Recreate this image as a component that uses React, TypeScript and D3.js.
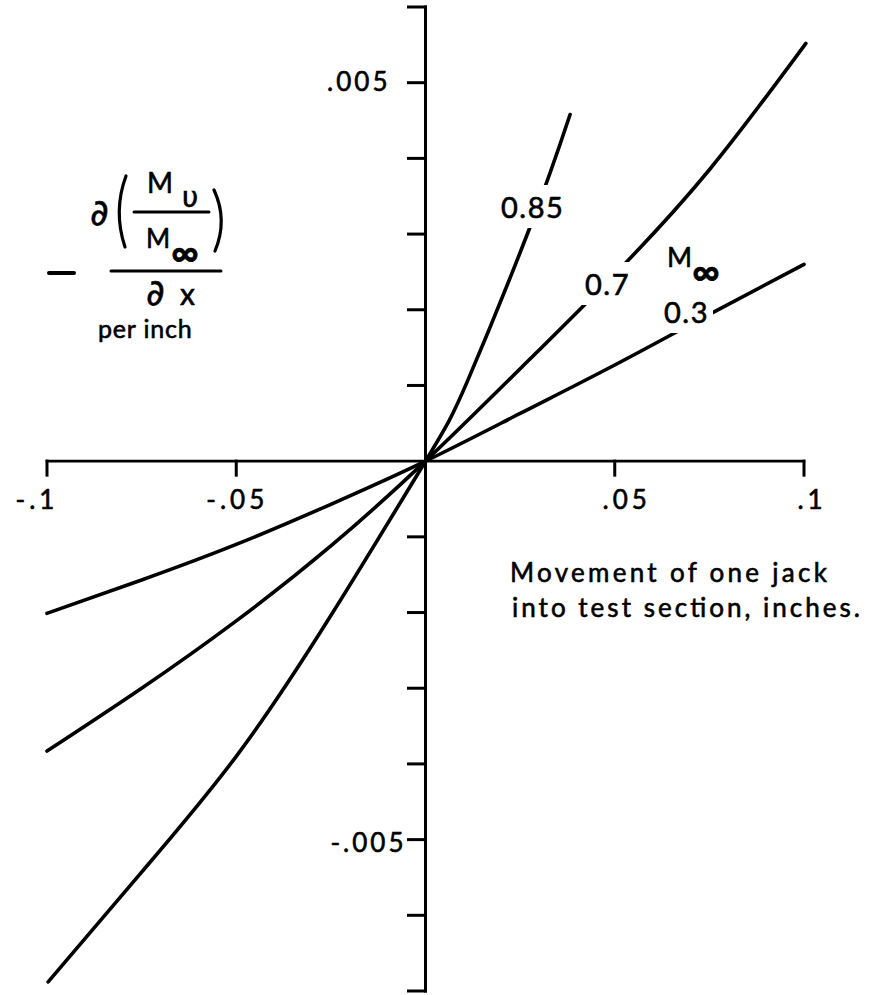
import React, { useEffect, useRef } from "react";
import * as d3 from "d3";

const WIDTH = 880;
const HEIGHT = 995;
const FONT = "Lato, 'DejaVu Sans', sans-serif";
const SYMBOL_FONT = "'DejaVu Sans', sans-serif";

// Movement of one jack into the test section (inches) against the
// Mach-number gradient -d(Mv/M∞)/dx (per inch), one series per free-stream Mach number.
const jack03 = [-0.1, -0.075, -0.05, -0.025, 0, 0.025, 0.05, 0.075, 0.1];
const grad03 = [-0.00201, -0.00157, -0.0011, -0.00057, 0, 0.00063, 0.00127, 0.00194, 0.0026];

const jack07 = [-0.1, -0.075, -0.05, -0.025, 0, 0.025, 0.05, 0.075, 0.1005];
const grad07 = [-0.00383, -0.003, -0.00211, -0.00112, 0, 0.00122, 0.00247, 0.00385, 0.00552];

const jack085 = [-0.0997, -0.075, -0.05, -0.025, 0, 0.0112, 0.0279, 0.0382];
const grad085 = [-0.00688, -0.00543, -0.0039, -0.00204, 0, 0.00107, 0.00313, 0.00458];

const machNumbers = ["0.3", "0.7", "0.85"];

const xTickValues = [-0.1, -0.05, 0.05, 0.1];
const xTickLabels = ["-.1", "-.05", ".05", ".1"];
const yTickValues = [-0.007, -0.006, -0.005, -0.004, -0.003, -0.002, -0.001, 0.001, 0.002, 0.003, 0.004, 0.005, 0.006];
const yLabelValues = [0.005, -0.005];
const yLabelTexts = [".005", "-.005"];

const xTitleLines = ["Movement of one jack", "into test section, inches."];

// Layout (pixels)
const layout = {
  plotLeft: 47,
  plotRight: 804,
  plotTop: 7,
  plotBottom: 991,
  xTickLen: 14,
  yTickLen: 17,
  xTickLabelDx: [-10, 1, 12, 8],
  xTickLabelY: 509,
  yTickLabelDx: [-35, -19],
  yTickLabelDy: [8, 12],
  curveLabelPos: [
    { x: 664, y: 323 },
    { x: 585, y: 295 },
    { x: 501, y: 218 },
  ],
  gapPad: 4,
  xTitle: [
    { x: 510, y: 582, len: 317 },
    { x: 512, y: 617, len: 348 },
  ],
  textStroke: 0.6,
};

export default function App() {
  const ref = useRef<SVGSVGElement>(null);

  useEffect(() => {
    const svg = d3.select(ref.current);
    svg.selectAll("*").remove();

    const x = d3.scaleLinear().domain([-0.1, 0.1]).range([layout.plotLeft, layout.plotRight]);
    const y = d3.scaleLinear().domain([-0.007, 0.006]).range([layout.plotBottom, layout.plotTop]);
    const x0 = x(0);
    const y0 = y(0);

    svg.append("rect").attr("width", WIDTH).attr("height", HEIGHT).attr("fill", "#fff");

    // mask that opens gaps in the curves where the Mach labels sit
    const mask = svg
      .append("defs")
      .append("mask")
      .attr("id", "label-gaps")
      .attr("maskUnits", "userSpaceOnUse")
      .attr("x", 0)
      .attr("y", 0)
      .attr("width", WIDTH)
      .attr("height", HEIGHT);
    mask.append("rect").attr("width", WIDTH).attr("height", HEIGHT).attr("fill", "#fff");

    // axes
    const axes = svg
      .append("g")
      .attr("stroke", "#000")
      .attr("stroke-width", 3)
      .attr("stroke-linecap", "square")
      .attr("fill", "none");

    axes
      .append("line")
      .attr("x1", x0)
      .attr("x2", x0)
      .attr("y1", y(0.006))
      .attr("y2", y(-0.007));
    axes
      .selectAll("line.ytick")
      .data(yTickValues)
      .join("line")
      .attr("class", "ytick")
      .attr("x1", x0 - layout.yTickLen)
      .attr("x2", x0)
      .attr("y1", (d) => y(d))
      .attr("y2", (d) => y(d));

    axes
      .append("line")
      .attr("x1", x(-0.1))
      .attr("x2", x(0.1))
      .attr("y1", y0)
      .attr("y2", y0)
      .attr("stroke-width", 2.6);
    axes
      .selectAll("line.xtick")
      .data(xTickValues)
      .join("line")
      .attr("class", "xtick")
      .attr("x1", (d) => x(d))
      .attr("x2", (d) => x(d))
      .attr("y1", y0)
      .attr("y2", y0 + layout.xTickLen);

    // tick labels
    const text = svg
      .append("g")
      .attr("font-family", FONT)
      .attr("fill", "#000")
      .attr("stroke", "#000")
      .attr("stroke-width", layout.textStroke);

    text
      .selectAll("text.xlab")
      .data(xTickValues)
      .join("text")
      .attr("class", "xlab")
      .attr("x", (d, i) => x(d) + layout.xTickLabelDx[i])
      .attr("y", layout.xTickLabelY)
      .attr("text-anchor", "middle")
      .attr("font-size", 26)
      .attr("letter-spacing", 4)
      .text((d, i) => xTickLabels[i]);

    text
      .selectAll("text.ylab")
      .data(yLabelValues)
      .join("text")
      .attr("class", "ylab")
      .attr("x", (d, i) => x0 + layout.yTickLabelDx[i])
      .attr("y", (d, i) => y(d) + layout.yTickLabelDy[i])
      .attr("text-anchor", "end")
      .attr("font-size", 26)
      .attr("letter-spacing", 3)
      .text((d, i) => yLabelTexts[i]);

    // x-axis title
    text
      .selectAll("text.xtitle")
      .data(xTitleLines)
      .join("text")
      .attr("class", "xtitle")
      .attr("x", (d, i) => layout.xTitle[i].x)
      .attr("y", (d, i) => layout.xTitle[i].y)
      .attr("font-size", 26)
      .attr("textLength", (d, i) => layout.xTitle[i].len)
      .attr("lengthAdjust", "spacing")
      .text((d) => d);

    // y-axis quantity: - d(Mv / M∞) / dx, per inch
    const ylab = svg
      .append("g")
      .attr("font-family", FONT)
      .attr("fill", "#000")
      .attr("stroke", "#000")
      .attr("stroke-width", layout.textStroke);
    const strokes = ylab
      .append("g")
      .attr("stroke", "#000")
      .attr("fill", "none")
      .attr("stroke-linecap", "round");
    strokes.append("line").attr("x1", 49).attr("x2", 74).attr("y1", 273).attr("y2", 273).attr("stroke-width", 4);
    strokes.append("line").attr("x1", 111).attr("x2", 221).attr("y1", 271).attr("y2", 271).attr("stroke-width", 3);
    strokes.append("line").attr("x1", 134).attr("x2", 209).attr("y1", 212).attr("y2", 212).attr("stroke-width", 3);
    strokes.append("path").attr("d", "M126,176 Q113,211 125,247").attr("stroke-width", 3.2);
    strokes.append("path").attr("d", "M214,190 Q228,220 215,251").attr("stroke-width", 3.2);

    ylab.append("text").attr("x", 90).attr("y", 225).attr("font-family", SYMBOL_FONT).attr("font-size", 36).text("∂");
    ylab.append("text").attr("x", 147).attr("y", 193).attr("font-size", 28).text("M");
    ylab.append("text").attr("x", 182).attr("y", 207).attr("font-family", SYMBOL_FONT).attr("font-size", 28).text("υ");
    ylab.append("text").attr("x", 146).attr("y", 248).attr("font-size", 26).text("M");
    ylab
      .append("text")
      .attr("x", 171)
      .attr("y", 251)
      .attr("dominant-baseline", "central")
      .attr("font-size", 38)
      .attr("font-weight", 700)
      .text("∞");
    ylab.append("text").attr("x", 146).attr("y", 305).attr("font-family", SYMBOL_FONT).attr("font-size", 36).text("∂");
    ylab.append("text").attr("x", 180).attr("y", 305).attr("font-size", 30).text("x");
    ylab
      .append("text")
      .attr("x", 98)
      .attr("y", 338)
      .attr("font-size", 25)
      .attr("letter-spacing", 0.8)
      .text("per inch");

    // curves
    const series = [
      { jack: jack03, grad: grad03 },
      { jack: jack07, grad: grad07 },
      { jack: jack085, grad: grad085 },
    ];
    const line = d3
      .line<[number, number]>()
      .x((d) => x(d[0]))
      .y((d) => y(d[1]))
      .curve(d3.curveNatural);

    svg
      .append("g")
      .attr("mask", "url(#label-gaps)")
      .attr("fill", "none")
      .attr("stroke", "#000")
      .attr("stroke-width", 3.6)
      .attr("stroke-linecap", "round")
      .attr("stroke-linejoin", "round")
      .selectAll("path")
      .data(series)
      .join("path")
      .attr("d", (s) => line(d3.zip(s.jack, s.grad) as [number, number][]));

    // Mach number labels
    const labels = svg
      .append("g")
      .attr("font-family", FONT)
      .attr("fill", "#000")
      .attr("stroke", "#000")
      .attr("stroke-width", layout.textStroke)
      .selectAll("text")
      .data(machNumbers)
      .join("text")
      .attr("x", (d, i) => layout.curveLabelPos[i].x)
      .attr("y", (d, i) => layout.curveLabelPos[i].y)
      .attr("font-size", 29)
      .attr("letter-spacing", 1.5)
      .text((d) => d);

    labels.each(function () {
      const b = (this as SVGTextElement).getBBox();
      const p = layout.gapPad;
      mask
        .append("rect")
        .attr("x", b.x - p)
        .attr("y", b.y - p)
        .attr("width", b.width + 2 * p)
        .attr("height", b.height + 2 * p)
        .attr("fill", "#000");
    });

    // M∞ caption for the curve labels
    const cap = svg
      .append("g")
      .attr("font-family", FONT)
      .attr("fill", "#000")
      .attr("stroke", "#000")
      .attr("stroke-width", layout.textStroke);
    cap.append("text").attr("x", 667).attr("y", 267).attr("font-size", 27).text("M");
    cap
      .append("text")
      .attr("x", 692)
      .attr("y", 270)
      .attr("dominant-baseline", "central")
      .attr("font-size", 38)
      .attr("font-weight", 700)
      .text("∞");
  }, []);

  return (
    <svg
      ref={ref}
      width={WIDTH}
      height={HEIGHT}
      style={{ position: "absolute", left: 0, top: 0, display: "block" }}
    />
  );
}
